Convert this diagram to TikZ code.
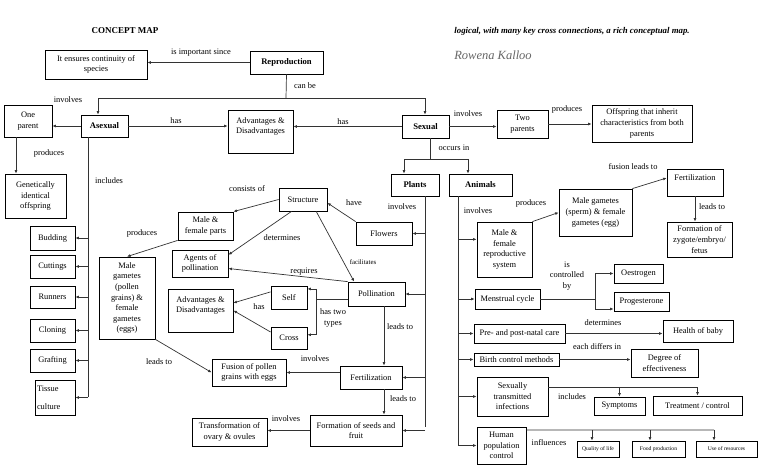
\documentclass[tikz,border=0pt]{standalone}
\usepackage{fontspec}
\setmainfont{Liberation Serif}
\usetikzlibrary{arrows.meta}
\usetikzlibrary{shapes.geometric, calc}

\begin{document}
\begin{tikzpicture}[x=1pt, y=-1pt,
    boite/.style 2 args={draw, line width=0.8pt, minimum width=#1pt, minimum height=#2pt,
        inner sep=1pt, align=center, font=\fontsize{8.4}{10.6}\selectfont},
    gras/.style={font=\bfseries\fontsize{8.6}{10}\selectfont},
    petit/.style={font=\fontsize{5.6}{6}\selectfont},
    lien/.style={line width=0.7pt, black!80},
    fleche/.style={lien, -{Latex[length=3.5pt, width=3pt]}},
    etiq/.style={font=\fontsize{8.4}{10.6}\selectfont, align=center, inner sep=0pt}]
        \useasboundingbox (0,0) rectangle (768,466);

        % En-tête
        \node[etiq, font=\bfseries\fontsize{9}{11}\selectfont] (titre) at (125,31) {CONCEPT MAP};
        \node[etiq, font=\bfseries\itshape\fontsize{8.8}{10}\selectfont] (avis) at (572,31) {logical, with many key cross connections, a rich conceptual map.};
        \node[etiq, font=\itshape\fontsize{12.5}{12}\selectfont, text=black!60] (signe) at (493,55) {Rowena Kalloo};

        % Boîtes du haut
        \node[boite={73}{23}, gras] (repro) at (286.5,62.5) {Reproduction};
        \node[boite={102}{29}] (continuite) at (96,64.5) {It ensures continuity of\\species};
        \node[boite={47}{22}, gras] (asexue) at (104.5,126) {Asexual};
        \node[boite={48}{32}] (unparent) at (28,121) {One\\parent};
        \node[boite={65}{43}, text depth=12pt] (avant) at (260.5,131.5) {Advantages \&\\Disadvantages};
        \node[boite={47}{23}, gras] (sexue) at (425.5,126.5) {Sexual};
        \node[boite={51}{28}] (deuxparents) at (522.5,124) {Two\\parents};
        \node[boite={100}{37}] (descendance) at (642,123.5) {Offspring that inherit\\characteristics from both\\parents};

        % Reproduction asexuée
        \node[boite={61}{44}] (identique) at (35.5,196) {Genetically\\identical\\offspring};
        \node[boite={45}{24}] (bourgeon) at (52.5,238) {Budding};
        \node[boite={45}{23}] (bouture) at (52.5,266.5) {Cuttings};
        \node[boite={45}{22}] (stolon) at (52.5,297) {Runners};
        \node[boite={45}{23}] (clonage) at (52.5,330.5) {Cloning};
        \node[boite={45}{23}] (greffe) at (52.5,360.5) {Grafting};
        \node[boite={40}{35}, text width=36pt, align=left] (tissu) at (55,397.5) {Tissue\\[7pt]culture};

        % Plantes
        \node[boite={48}{22}, gras] (plantes) at (415,185) {Plants};
        \node[boite={48}{23}] (structure) at (303,199.5) {Structure};
        \node[boite={55}{28}] (organes) at (205.5,226) {Male \&\\female parts};
        \node[boite={56}{82}] (gametesP) at (127,298) {Male\\gametes\\(pollen\\grains) \&\\female\\gametes\\(eggs)};
        \node[boite={56}{27}] (agents) at (200,263.5) {Agents of\\pollination};
        \node[boite={56}{23}] (fleurs) at (384,233.5) {Flowers};
        \node[boite={57}{24}] (pollin) at (376.5,294) {Pollination};
        \node[boite={36}{23}] (autofec) at (289,297.5) {Self};
        \node[boite={36}{22}] (croisee) at (289,338) {Cross};
        \node[boite={65}{43}, text depth=12pt] (avantP) at (200.5,310.5) {Advantages \&\\Disadvantages};
        \node[boite={62}{23}] (fecondP) at (371,377.5) {Fertilization};
        \node[boite={74}{27}] (fusion) at (249,372.5) {Fusion of pollen\\grains with eggs};
        \node[boite={92}{31}] (graines) at (356,430.5) {Formation of seeds and\\fruit};
        \node[boite={75}{28}] (ovaire) at (229.5,432) {Transformation of\\ovary \& ovules};

        % Animaux
        \node[boite={63}{22}, gras] (animaux) at (480.5,185) {Animals};
        \node[boite={55}{55}] (appareil) at (504.5,249.5) {Male \&\\female\\reproductive\\system};
        \node[boite={73}{47}] (gametesA) at (595.5,212.5) {Male gametes\\(sperm) \& female\\gametes (egg)};
        \node[boite={56}{27}, text depth=9pt] (fecondA) at (695,182.5) {Fertilization};
        \node[boite={65}{35}] (zygote) at (699.5,239.5) {Formation of\\zygote/embryo/\\fetus};
        \node[boite={65}{20}] (cycle) at (507.5,299) {Menstrual cycle};
        \node[boite={49}{19}] (oestrogene) at (638.5,273.5) {Oestrogen};
        \node[boite={55}{19}] (progest) at (641.5,301.5) {Progesterone};
        \node[boite={91}{19}] (soins) at (519.5,333.5) {Pre- and post-natal care};
        \node[boite={70}{22}] (sante) at (698,331) {Health of baby};
        \node[boite={85}{13}] (contracep) at (516.5,359.5) {Birth control methods};
        \node[boite={67}{28}] (efficacite) at (664.5,363) {Degree of\\effectiveness};
        \node[boite={71}{39}] (ist) at (512.5,396.5) {Sexually\\transmitted\\infections};
        \node[boite={51}{18}] (symptomes) at (619.5,406) {Symptoms};
        \node[boite={89}{19}] (traitement) at (697.5,405.5) {Treatment / control};
        \node[boite={49}{37}] (population) at (501.5,445.5) {Human\\population\\control};
        \node[boite={42}{16}, petit] (qualite) at (598,449) {Quality of life};
        \node[boite={53}{16}, petit] (nourriture) at (658.5,449) {Food production};
        \node[boite={61}{16}, petit] (ressources) at (726.5,449) {Use of resources};

        % Points de passage
        \coordinate (peutetre) at (286,98);
        \coordinate (peutG) at (98,98);
        \coordinate (peutD) at (425,98);
        \coordinate (produitx) at (16,150);
        \coordinate (inclut) at (88,397);
        \coordinate (lieuG) at (404,159);
        \coordinate (lieuD) at (468,159);
        \coordinate (lieu) at (430,159);
        \coordinate (ligneP) at (425,427);
        \coordinate (ligneA) at (458,445);
        \coordinate (types) at (316,300);
        \coordinate (mene) at (384,300);
        \coordinate (controle) at (595,300);
        \coordinate (infA) at (592,430);
        \coordinate (infB) at (650,430);
        \coordinate (infC) at (714,430);

        % Liens du haut
        \draw[fleche] (repro.west) -- (repro.west -| continuite.east);
        \draw[lien] (repro.south) -- (peutetre);
        \draw[fleche] (peutetre) -- (peutG) -- (peutG |- asexue.north);
        \draw[fleche] (peutetre) -- (peutD) -- (peutD |- sexue.north);
        \draw[fleche] (asexue.west) -- (asexue.west -| unparent.east);
        \draw[fleche] (asexue.east) -- (asexue.east -| avant.west);
        \draw[fleche] (sexue.west) -- (sexue.west -| avant.east);
        \draw[fleche] (sexue.east) -- (sexue.east -| deuxparents.west);
        \draw[fleche] (deuxparents.east) -- (deuxparents.east -| descendance.west);

        % Liens asexués
        \draw[fleche] (unparent.south -| produitx) -- (identique.north -| produitx);
        \draw[lien] (inclut |- asexue.south) -- (inclut);
        \foreach \b in {bourgeon, bouture, stolon, clonage, greffe, tissu}
            \draw[fleche] (\b.east -| inclut) -- (\b.east);

        % Liens des plantes
        \draw[lien] (lieu |- sexue.south) -- (lieu);
        \draw[lien] (lieuG) -- (lieuD);
        \draw[fleche] (lieuG) -- (lieuG |- plantes.north);
        \draw[fleche] (lieuD) -- (lieuD |- animaux.north);
        \draw[lien] (ligneP |- plantes.south) -- (ligneP);
        \foreach \b in {fleurs, pollin, fecondP, graines}
            \draw[fleche] (\b.east -| ligneP) -- (\b.east);
        \draw[fleche] (structure.west) -- (organes.north east);
        \draw[fleche] (organes.south west) -- (gametesP.north);
        \draw[fleche] (structure.226) -- (agents.17);
        \draw[fleche] (pollin.north west) -- (agents.350);
        \draw[fleche] (fleurs.north west) -- (structure.352);
        \draw[fleche] (structure.318) -- (pollin.151);
        \draw[lien] (pollin.190) -- (pollin.190 -| types);
        \draw[fleche] (types |- autofec.25) -- (autofec.25);
        \draw[fleche] (types |- autofec.25) |- (croisee.10);
        \draw[fleche] (autofec.163) -- (avantP.13);
        \draw[fleche] (croisee.162) -- (avantP.east);
        \draw[fleche] (pollin.south -| mene) -- (fecondP.north -| mene);
        \draw[fleche] (fecondP.south -| mene) -- (graines.north -| mene);
        \draw[fleche] (fecondP.west |- fusion.east) -- (fusion.east);
        \draw[fleche] (gametesP.south east) -- (fusion.west);
        \draw[fleche] (graines.west) -- (graines.west -| ovaire.east);

        % Liens des animaux
        \draw[lien] (ligneA |- animaux.south) -- (ligneA);
        \draw[fleche] (ligneA |- appareil.160) -- (appareil.160);
        \foreach \b in {cycle, soins, contracep, ist, population}
            \draw[fleche] (\b.west -| ligneA) -- (\b.west);
        \draw[fleche] (appareil.north east) -- (gametesA.west);
        \draw[fleche] (gametesA.north east) -- (fecondA.171);
        \draw[fleche] (fecondA.south) -- (fecondA.south |- zygote.north);
        \draw[lien] (cycle.east) -- (cycle.east -| controle);
        \draw[fleche] (controle |- cycle.east) |- (oestrogene.west);
        \draw[fleche] (controle |- cycle.east) |- (progest.195);
        \draw[fleche] (soins.east) -- (soins.east -| sante.west);
        \draw[fleche] (contracep.east) -- (contracep.east -| efficacite.west);
        \draw[fleche] (ist.15) -| (traitement.north);
        \draw[fleche] (ist.15 -| symptomes.north) -- (symptomes.north);
        \draw[lien] (population.32) -- (infC);
        \draw[fleche] (infA) -- (infA |- qualite.north);
        \draw[fleche] (infB) -- (infB |- nourriture.north);
        \draw[fleche] (infC) -- (infC |- ressources.north);

        % Étiquettes des liens
        \node[etiq] (e1) at (201,53) {is important since};
        \node[etiq] (e2) at (305,86) {can be};
        \node[etiq] (e3) at (68,100) {involves};
        \node[etiq] (e4) at (176,121) {has};
        \node[etiq] (e5) at (343,122) {has};
        \node[etiq] (e6) at (468,114) {involves};
        \node[etiq] (e7) at (567,109) {produces};
        \node[etiq] (e8) at (49,153) {produces};
        \node[etiq] (e9) at (109,181) {includes};
        \node[etiq] (e10) at (454,148) {occurs in};
        \node[etiq] (e11) at (247,189) {consists of};
        \node[etiq] (e12) at (142,233) {produces};
        \node[etiq] (e13) at (354,203) {have};
        \node[etiq] (e14) at (402,207) {involves};
        \node[etiq] (e15) at (478,211) {involves};
        \node[etiq] (e16) at (531,203) {produces};
        \node[etiq] (e17) at (633,167) {fusion leads to};
        \node[etiq] (e18) at (712,207) {leads to};
        \node[etiq] (e19) at (282,238) {determines};
        \node[etiq, font=\fontsize{6.8}{8}\selectfont] (e20) at (363,262) {facilitates};
        \node[etiq] (e21) at (304,272) {requires};
        \node[etiq] (e22) at (259,307) {has};
        \node[etiq] (e23) at (333,318) {has two\\types};
        \node[etiq] (e24) at (400,327) {leads to};
        \node[etiq] (e25) at (567,276) {is\\controlled\\by};
        \node[etiq] (e26) at (315,359) {involves};
        \node[etiq] (e27) at (159,362) {leads to};
        \node[etiq] (e28) at (403,399) {leads to};
        \node[etiq] (e29) at (286,419) {involves};
        \node[etiq] (e30) at (603,323) {determines};
        \node[etiq] (e31) at (597,347) {each differs in};
        \node[etiq] (e32) at (572,397) {includes};
        \node[etiq] (e33) at (549,443) {influences};
    \end{tikzpicture}
\end{document}
